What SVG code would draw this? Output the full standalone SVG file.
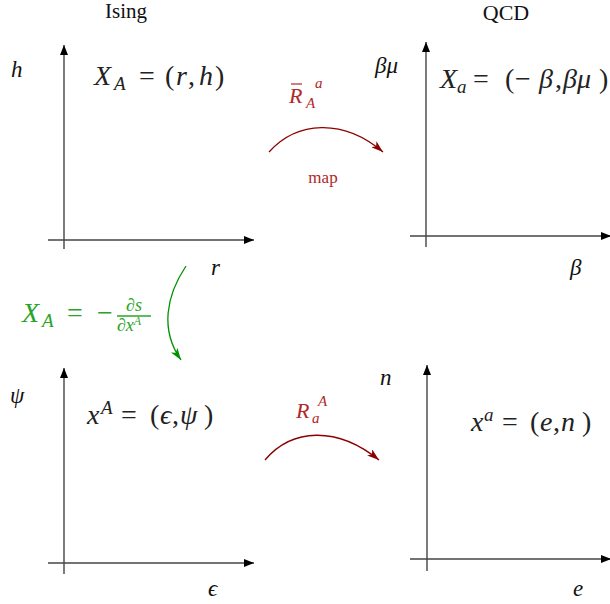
<svg xmlns="http://www.w3.org/2000/svg" width="610" height="604" viewBox="0 0 610 604">
<style>
.ax{stroke:#444;stroke-width:1.4;fill:none}
.t{font-family:"Liberation Serif",serif;fill:#111}
.m{font-family:"Liberation Serif",serif;fill:#222;font-size:28px}
.i{font-style:italic}
.s{font-size:19px;font-style:italic}
.red{stroke:#8b0000;stroke-width:1.3;fill:none}
.grn{stroke:#009000;stroke-width:1.3;fill:none}
.rl{font-family:"Liberation Serif",serif;fill:#b02828}
.gl{font-family:"Liberation Serif",serif;fill:#28a428}
</style>
<defs>
<marker id="ah" viewBox="0 0 10 8" refX="10" refY="4" markerWidth="11" markerHeight="8" markerUnits="userSpaceOnUse" orient="auto"><path d="M0,0 L10,4 L0,8 Z" fill="#000"/></marker>
<marker id="ar" viewBox="0 0 12 8" refX="12" refY="4" markerWidth="13" markerHeight="8" markerUnits="userSpaceOnUse" orient="auto"><path d="M0,0 L12,4 L0,8 L3,4 Z" fill="#8b0000"/></marker>
<marker id="ag" viewBox="0 0 12 8" refX="12" refY="4" markerWidth="13" markerHeight="8" markerUnits="userSpaceOnUse" orient="auto"><path d="M0,0 L12,4 L0,8 L3,4 Z" fill="#009000"/></marker>
</defs>
<text class="t" x="126" y="18" font-size="21" text-anchor="middle">Ising</text>
<text class="t" x="506" y="20" font-size="22" text-anchor="middle">QCD</text>
<g id="ising-rh">
<line class="ax" x1="64" y1="249" x2="64" y2="45" marker-end="url(#ah)"/>
<line class="ax" x1="48" y1="240" x2="254" y2="240" marker-end="url(#ah)"/>
<text class="t i" x="11" y="77" font-size="23">h</text>
<text class="t i" x="211" y="275" font-size="23">r</text>
<text class="m" y="85"><tspan class="i" x="94">X</tspan><tspan class="s" x="114" dy="5">A</tspan><tspan x="139" dy="-5">=</tspan><tspan x="165">(</tspan><tspan class="i" x="176">r</tspan><tspan x="188">,</tspan><tspan class="i" x="199">h</tspan><tspan x="215">)</tspan></text>
</g>
<g id="qcd-beta">
<line class="ax" x1="426" y1="247" x2="426" y2="42" marker-end="url(#ah)"/>
<line class="ax" x1="410" y1="236" x2="611" y2="236" marker-end="url(#ah)"/>
<text class="t i" x="375" y="73" font-size="23">βμ</text>
<text class="t i" x="570" y="275" font-size="23">β</text>
<text class="m" y="88"><tspan class="i" x="440">X</tspan><tspan class="s" x="457" dy="5">a</tspan><tspan x="473" dy="-5">=</tspan><tspan x="505">(</tspan><tspan x="515">−</tspan><tspan class="i" x="539">β</tspan><tspan x="555">,</tspan><tspan class="i" x="563">βμ</tspan><tspan x="599">)</tspan></text>
</g>
<g id="ising-epsilon">
<line class="ax" x1="64" y1="574" x2="64" y2="368" marker-end="url(#ah)"/>
<line class="ax" x1="48" y1="563" x2="254" y2="563" marker-end="url(#ah)"/>
<text class="t i" x="10" y="403" font-size="23">ψ</text>
<text class="t i" x="208" y="596" font-size="23">ϵ</text>
<text class="m" y="424"><tspan class="i" x="87">x</tspan><tspan class="s" x="101" dy="-10">A</tspan><tspan x="121" dy="10">=</tspan><tspan x="150">(</tspan><tspan class="i" x="160">ϵ</tspan><tspan x="172">,</tspan><tspan class="i" x="180">ψ</tspan><tspan x="204">)</tspan></text>
</g>
<g id="qcd-e">
<line class="ax" x1="427" y1="571" x2="427" y2="365" marker-end="url(#ah)"/>
<line class="ax" x1="410" y1="559" x2="611" y2="559" marker-end="url(#ah)"/>
<text class="t i" x="380" y="385" font-size="23">n</text>
<text class="t i" x="573" y="596" font-size="23">e</text>
<text class="m" y="431"><tspan class="i" x="471">x</tspan><tspan class="s" x="484" dy="-10">a</tspan><tspan x="502" dy="10">=</tspan><tspan x="530">(</tspan><tspan class="i" x="540">e</tspan><tspan x="553">,</tspan><tspan class="i" x="561">n</tspan><tspan x="582">)</tspan></text>
</g>
<g id="connectors">
<path class="red" d="M269,152 C297,121 343,118 383,152" marker-end="url(#ar)"/>
<path class="red" d="M265,460 C292,428 337,426 379,460" marker-end="url(#ar)"/>
<path class="grn" d="M186,266 C166,296 160,330 181,360" marker-end="url(#ag)"/>
</g>
<g id="labels">
<text class="rl" y="103" font-size="22"><tspan class="i" x="289">R</tspan><tspan class="i" font-size="15" x="306" dy="5">A</tspan><tspan class="i" font-size="15" x="315" dy="-20">a</tspan></text>
<line x1="291" y1="84" x2="302" y2="84" stroke="#b02828" stroke-width="1.2"/>
<text class="rl" x="323" y="183" font-size="17" text-anchor="middle">map</text>
<text class="rl" y="418" font-size="22"><tspan class="i" x="296">R</tspan><tspan class="i" font-size="15" x="312" dy="5">a</tspan><tspan class="i" font-size="15" x="318" dy="-17">A</tspan></text>
<text class="gl" y="322" font-size="28"><tspan class="i" x="22">X</tspan><tspan class="i" font-size="19" x="42" dy="5">A</tspan><tspan x="67" dy="-5">=</tspan><tspan x="97">−</tspan></text>
<text class="gl i" x="134" y="311" font-size="18" text-anchor="middle">∂s</text>
<line x1="117" y1="316" x2="151" y2="316" stroke="#28a428" stroke-width="1.3"/>
<text class="gl i" x="129" y="331" font-size="18" text-anchor="middle">∂x<tspan font-size="12" dy="-6">A</tspan></text>
</g>
</svg>
